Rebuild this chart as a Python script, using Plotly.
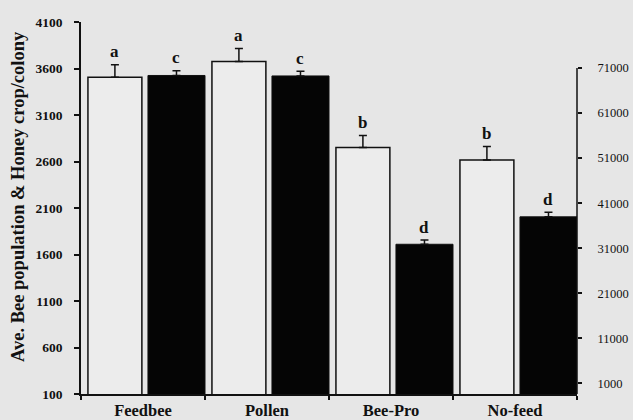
import plotly.graph_objects as go

categories = ["Feedbee", "Pollen", "Bee-Pro", "No-feed"]
white_vals = [3505, 3675, 2750, 2615]
white_err = [135, 140, 130, 145]
white_letters = ["a", "a", "b", "b"]
black_vals = [3525, 3520, 1710, 2005]
black_err = [50, 50, 45, 48]
black_letters = ["c", "c", "d", "d"]
left_ticks = list(range(100, 4101, 500))
right_ticks = list(range(1000, 71001, 10000))

FONT = "Liberation Serif"
BG = "#e6e6e6"
INK = "#111111"

W_OFF, W_W = -0.444, 0.435
B_OFF, B_W = 0.04, 0.46

fig = go.Figure()
fig.add_trace(go.Bar(
    x=categories, y=white_vals, offset=W_OFF, width=W_W,
    marker=dict(color="#ececec", line=dict(color=INK, width=1.5)),
    error_y=dict(type="data", symmetric=False, array=white_err,
                 arrayminus=[0] * len(white_err), width=4, thickness=1.5, color=INK),
    showlegend=False))
fig.add_trace(go.Bar(
    x=categories, y=black_vals, offset=B_OFF, width=B_W,
    marker=dict(color="#050505", line=dict(color=INK, width=1)),
    error_y=dict(type="data", symmetric=False, array=black_err,
                 arrayminus=[0] * len(black_err), width=4, thickness=1.5, color=INK),
    showlegend=False))

# invisible trace so the right-hand axis is drawn
fig.add_trace(go.Scatter(x=[categories[0]], y=[right_ticks[0]], yaxis="y2",
                         mode="markers", marker=dict(opacity=0), hoverinfo="skip",
                         showlegend=False))

annotations = []
for i, (v, e, t) in enumerate(zip(white_vals, white_err, white_letters)):
    annotations.append(dict(x=i + W_OFF + W_W / 2, y=v + e, text=t, showarrow=False,
                            yanchor="middle", yshift=13, xref="x", yref="y",
                            font=dict(family=FONT, size=17, color=INK, weight="bold")))
for i, (v, e, t) in enumerate(zip(black_vals, black_err, black_letters)):
    annotations.append(dict(x=i + B_OFF + B_W / 2, y=v + e, text=t, showarrow=False,
                            yanchor="middle", yshift=13, xref="x", yref="y",
                            font=dict(family=FONT, size=17, color=INK, weight="bold")))
annotations.append(dict(x=(18 - 81) / 496.0, y=(394 - 197) / 372.0, xref="paper", yref="paper",
                        xanchor="center", yanchor="middle", showarrow=False,
                        text="Ave. Bee population & Honey crop/colony", textangle=-90,
                        font=dict(family=FONT, size=18.5, color=INK, weight="bold")))

R_MIN, R_MAX = -1375, 81212

fig.update_layout(
    width=633, height=420,
    margin=dict(l=81, r=56, t=22, b=26),
    paper_bgcolor=BG, plot_bgcolor=BG,
    barmode="group",
    annotations=annotations,
    shapes=[dict(type="line", xref="paper", yref="y2", x0=1, x1=1,
                 y0=R_MIN, y1=right_ticks[-1], line=dict(color=INK, width=1.5))],
    xaxis=dict(range=[-0.5, 3.5], showgrid=False, showline=True, linecolor=INK, linewidth=1.5,
               ticks="outside", tickson="boundaries", ticklen=4, tickcolor=INK, tickwidth=1.5,
               ticklabelstandoff=0, automargin=False,
               tickfont=dict(family=FONT, size=16.5, color=INK, weight="bold"), zeroline=False),
    yaxis=dict(range=[100, 4100], tickvals=left_ticks, showgrid=False, showline=True,
               linecolor=INK, linewidth=1.5, ticks="outside", ticklen=5, tickcolor=INK,
               tickwidth=1.5, ticklabelstandoff=9, zeroline=False, automargin=False,
               tickfont=dict(family=FONT, size=13.5, color=INK, weight="bold")),
    yaxis2=dict(overlaying="y", side="right", range=[R_MIN, R_MAX], tickvals=right_ticks,
                tickformat="d", showgrid=False, showline=False, ticks="outside", ticklen=4,
                tickcolor=INK, tickwidth=1.5, ticklabelstandoff=13, zeroline=False,
                automargin=False, tickfont=dict(family=FONT, size=12.5, color=INK)),
)

fig.write_html("out.html", config={"displayModeBar": False},
               post_script="document.body.style.margin='0px';")
